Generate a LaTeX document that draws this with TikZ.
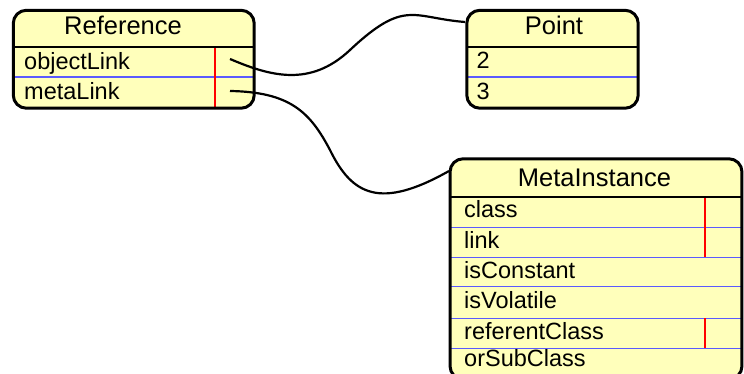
\documentclass[tikz,border=0pt]{standalone}
\usepackage{fontspec}
\setmainfont{Liberation Sans}
\definecolor{boxfill}{RGB}{255,255,187}
\definecolor{rowblue}{RGB}{90,90,255}
\definecolor{keyred}{RGB}{255,0,0}
\tikzset{
  classbox/.style={fill=boxfill, draw=none, rectangle, rounded corners=13pt, inner sep=0pt},
  boxline/.style={draw=black, line width=3pt, rounded corners=13pt},
  headsep/.style={draw=black, line width=2.2pt},
  rowsep/.style={draw=rowblue, line width=2.4pt},
  rowsepthin/.style={draw=rowblue, line width=1.4pt},
  keymark/.style={draw=keyred, line width=2.4pt},
  keymarkthin/.style={draw=keyred, line width=1.2pt},
  headtext/.style={inner sep=0pt, anchor=base, font=\fontsize{25.5}{30}\selectfont},
  attrtext/.style={inner sep=0pt, anchor=base west, font=\fontsize{23.5}{28}\selectfont},
  link/.style={draw=black, line width=2.2pt}
}
\begin{document}
\begin{tikzpicture}[x=1pt, y=-1pt]
\useasboundingbox (0,0) rectangle (744,374);
\clip (0,0) rectangle (744,374);

% ---- Reference ----
\node[classbox, minimum width=240.5pt, minimum height=97.5pt] (ref) at (133.75,59.25) {};
\draw[rowsep] (ref.west |- 0,77) -- (ref.east |- 0,77);
\draw[keymark] (215,47) -- (215,108);
\draw[headsep] (ref.west |- 0,47) -- (ref.east |- 0,47);
\draw[boxline] (ref.north west) rectangle (ref.south east);
\node[headtext] (refname) at (123,35) {Reference};
\node[attrtext] (refobj) at (24,70) {objectLink};
\node[attrtext] (refmeta) at (24,100) {metaLink};

% ---- Point ----
\node[classbox, minimum width=171pt, minimum height=97.5pt] (pt) at (552.5,59.25) {};
\draw[rowsep] (pt.west |- 0,77) -- (pt.east |- 0,77);
\draw[headsep] (pt.west |- 0,47) -- (pt.east |- 0,47);
\draw[boxline] (pt.north west) rectangle (pt.south east);
\node[headtext] (ptname) at (554,35) {Point};
\node[attrtext] (pttwo) at (476.5,69) {2};
\node[attrtext] (ptthree) at (476.5,100) {3};

% ---- MetaInstance (runs past the lower page edge) ----
\node[classbox, minimum width=291.5pt, minimum height=220pt] (mi) at (596,269) {};
\foreach \yy in {227.7,257.3,286.7,318.4,348.3}
  \draw[rowsepthin] (mi.west |- 0,\yy) -- (mi.east |- 0,\yy);
\draw[keymarkthin] (705,197) -- (705,257.3);
\draw[keymarkthin] (705,318.4) -- (705,348.3);
\draw[headsep] (mi.west |- 0,197) -- (mi.east |- 0,197);
\draw[boxline] (mi.north west) rectangle (mi.south east);
\node[headtext] (miname) at (594.5,186.5) {MetaInstance};
\node[attrtext] (miclass) at (464,218) {class};
\node[attrtext] (milink) at (464,248) {link};
\node[attrtext] (miconst) at (464,278.3) {isConstant};
\node[attrtext] (mivol) at (464,308.3) {isVolatile};
\node[attrtext] (miref) at (464,339) {referentClass};
\node[attrtext] (misub) at (464,366.7) {orSubClass};

% ---- connectors ----
\coordinate (objStart) at (230,59);
\coordinate (objEnd) at (465,22);
\coordinate (metaStart) at (230,91);
\coordinate (metaEnd) at (449,171);
\draw[link] (objStart) .. controls (270,76) and (310,87.6) .. (350,50)
                       .. controls (405,-1.7) and (413,18) .. (objEnd);
\draw[link] (metaStart) .. controls (290,92) and (310,112) .. (330,150)
                        .. controls (352,195) and (380,210) .. (metaEnd);
\end{tikzpicture}
\end{document}
